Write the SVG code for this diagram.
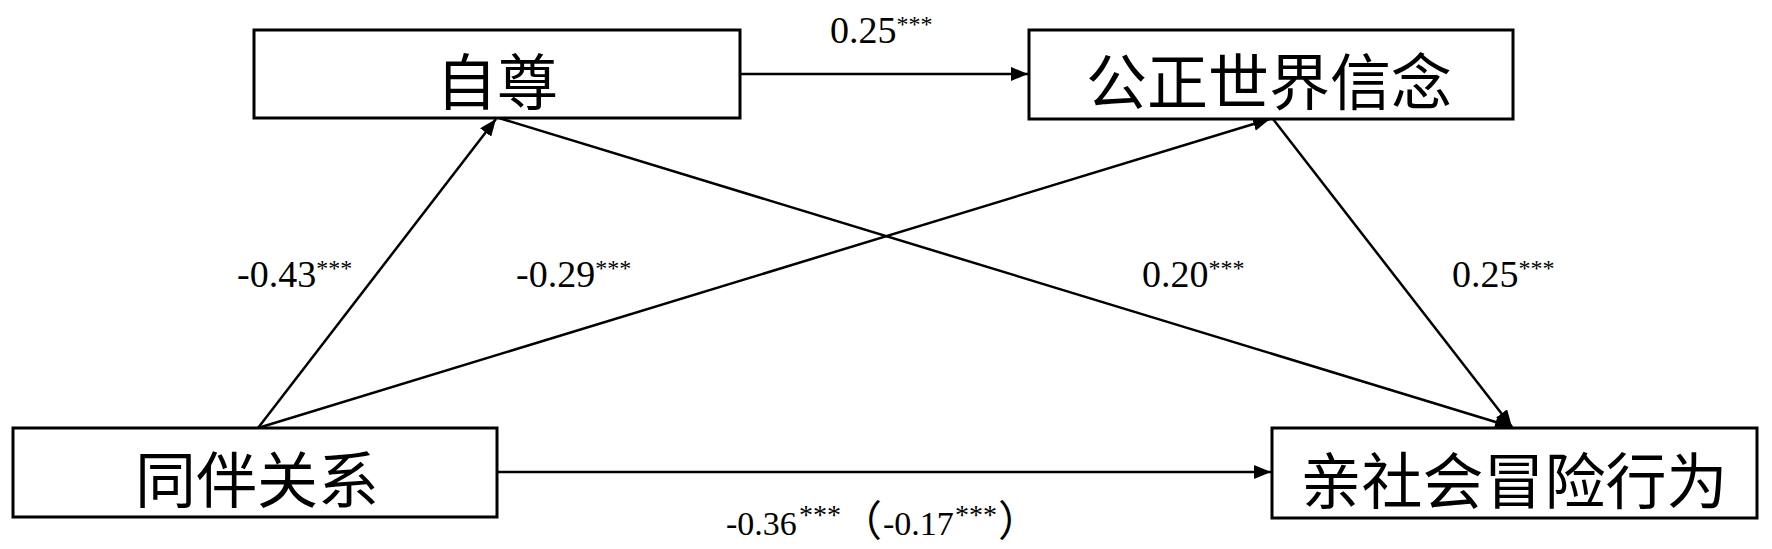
<svg xmlns="http://www.w3.org/2000/svg" width="1772" height="549" viewBox="0 0 1772 549">
<defs>
<style>
.box{fill:#fff;stroke:#000;stroke-width:3}
.nt{font-family:"Noto Sans CJK SC","Noto Sans CJK JP",sans-serif;font-size:61px;fill:#000;text-anchor:middle;dominant-baseline:central}
.lbl{font-family:"Liberation Serif","Noto Sans CJK SC",serif;font-size:38px;fill:#000}
.st{font-size:24px}
.bl{font-family:"Liberation Serif","Noto Sans CJK SC",serif;font-size:34px;fill:#000}
.bst{font-size:28px}
.par{font-family:"Noto Sans CJK SC",sans-serif;font-size:42px}
.ln{stroke:#000;stroke-width:2.5;fill:none;marker-end:url(#ah)}
</style>
<marker id="ah" markerUnits="userSpaceOnUse" markerWidth="18" markerHeight="14" refX="17" refY="7" orient="auto">
<path d="M0,0 L17,7 L0,14 Z" fill="#000"/>
</marker>
</defs>
<rect width="1772" height="549" fill="#fff"/>
<g id="connectors">
<line class="ln" x1="740" y1="74" x2="1028" y2="74"/>
<line class="ln" x1="258" y1="428" x2="496" y2="119"/>
<line class="ln" x1="258" y1="428" x2="1270" y2="119"/>
<line class="ln" x1="499" y1="118" x2="1512" y2="427"/>
<line class="ln" x1="1273" y1="119" x2="1512" y2="427"/>
<line class="ln" x1="497" y1="472" x2="1271" y2="472"/>
</g>
<g id="n_zizun">
<rect class="box" x="254" y="30" width="486" height="88"/>
<text class="nt" x="497" y="78">自尊</text>
</g>
<g id="n_gongzheng">
<rect class="box" x="1029" y="30" width="484" height="89"/>
<text class="nt" x="1269" y="78">公正世界信念</text>
</g>
<g id="n_tongban">
<rect class="box" x="13" y="428" width="484" height="89"/>
<text class="nt" x="257" y="476">同伴关系</text>
</g>
<g id="n_qinshehui">
<rect class="box" x="1272" y="428" width="485" height="90"/>
<text class="nt" x="1514" y="477">亲社会冒险行为</text>
</g>
<g id="labels">
<text class="lbl" x="830" y="43">0.25<tspan class="st" dy="-11">***</tspan></text>
<text class="lbl" x="237" y="287">-0.43<tspan class="st" dy="-11">***</tspan></text>
<text class="lbl" x="516" y="287">-0.29<tspan class="st" dy="-11">***</tspan></text>
<text class="lbl" x="1142" y="287">0.20<tspan class="st" dy="-11">***</tspan></text>
<text class="lbl" x="1452" y="287">0.25<tspan class="st" dy="-11">***</tspan></text>
<text class="bl" x="726" y="535">-0.36<tspan class="bst" x="799" y="524">***</tspan><tspan class="par" x="840" y="536">（</tspan><tspan x="883" y="535">-0.17</tspan><tspan class="bst" x="955" y="524">***</tspan><tspan class="par" x="998" y="536">）</tspan></text>
</g>
</svg>
